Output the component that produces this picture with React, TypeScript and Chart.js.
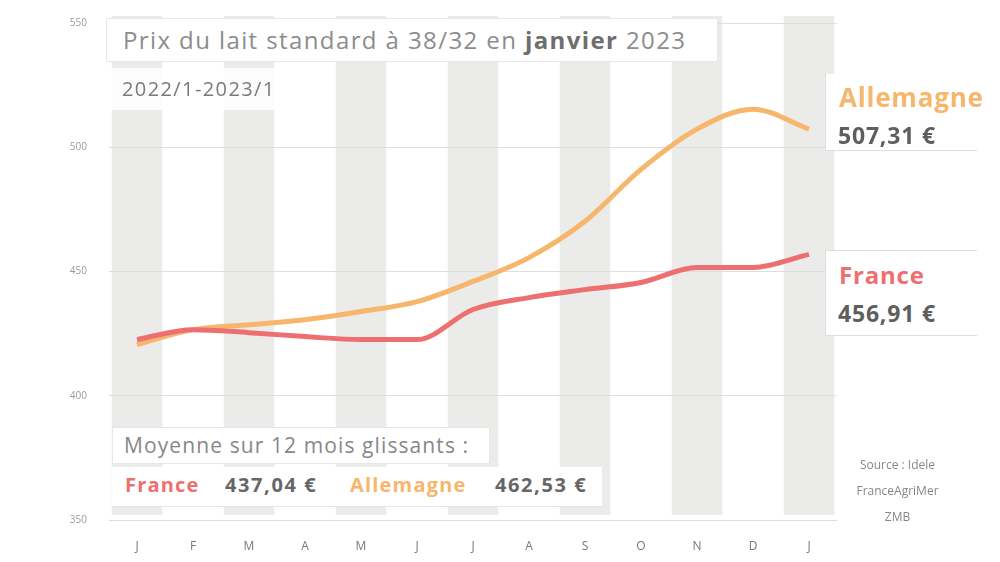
import React, { useEffect, useRef } from "react";
import { Chart, registerables } from "chart.js";
Chart.register(...registerables);

const months = ["J", "F", "M", "A", "M", "J", "J", "A", "S", "O", "N", "D", "J"];
const france = [422.6, 426.6, 425.4, 423.8, 422.6, 422.6, 434.7, 439.5, 442.7, 445.6, 451.6, 451.6, 456.9];
const allemagne = [420.6, 426.6, 428.6, 430.6, 433.9, 437.9, 446.0, 455.6, 470.2, 491.1, 507.3, 515.3, 507.3];
const yTicks = [350, 400, 450, 500, 550];
const bandMonths = [0, 2, 4, 6, 8, 10, 12];

const titleText = "Prix du lait standard à 38/32 en ";
const titleBold = "janvier";
const titleEnd = " 2023";
const periodText = "2022/1-2023/1";
const legendTitle = "Moyenne sur 12 mois glissants :";
const franceLabel = "France";
const allemagneLabel = "Allemagne";
const franceAvg = "437,04 €";
const allemagneAvg = "462,53 €";
const franceLast = "456,91 €";
const allemagneLast = "507,31 €";
const sourceLines = ["Source : Idele", "FranceAgriMer", "ZMB"];

const RED = "#ee6f6f";
const ORANGE = "#f6b66c";
const FONT = "'Open Sans', 'Noto Sans', sans-serif";

const bandsPlugin = {
  id: "bands",
  beforeDraw(chart: any) {
    const { ctx, chartArea, scales } = chart;
    const x = scales.x;
    const step = x.getPixelForValue(1) - x.getPixelForValue(0);
    const w = step * 0.9;
    ctx.save();
    ctx.fillStyle = "#ebebea";
    bandMonths.forEach((i) => {
      const cx = x.getPixelForValue(i);
      ctx.fillRect(cx - w / 2, chartArea.top - 7, w, chartArea.bottom - chartArea.top + 2);
    });
    ctx.restore();
  },
};

function Box(props: any) {
  return <div style={{ position: "absolute", boxSizing: "border-box", whiteSpace: "nowrap", ...props.style }}>{props.children}</div>;
}

export default function App() {
  const ref = useRef<HTMLCanvasElement>(null);
  useEffect(() => {
    const chart = new Chart(ref.current!, {
      type: "line",
      data: {
        labels: months,
        datasets: [
          {
            label: franceLabel,
            data: france,
            borderColor: RED,
            borderWidth: 5,
            pointRadius: 0,
            cubicInterpolationMode: "monotone",
            fill: false,
          },
          {
            label: allemagneLabel,
            data: allemagne,
            borderColor: ORANGE,
            borderWidth: 5,
            pointRadius: 0,
            cubicInterpolationMode: "monotone",
            fill: false,
          },
        ],
      },
      options: {
        responsive: false,
        animation: false,
        layout: { padding: { left: 0, right: 163, top: 5, bottom: 0 } },
        plugins: { legend: { display: false }, tooltip: { enabled: false } },
        scales: {
          x: {
            offset: true,
            grid: { display: false, drawTicks: false },
            border: { display: false },
            ticks: { color: "#777", font: { family: FONT, size: 12 }, padding: 19, maxRotation: 0, autoSkip: false },
            afterFit: (s: any) => { s.height = 47; },
          },
          y: {
            min: 350,
            max: 550,
            afterBuildTicks: (s: any) => { s.ticks = yTicks.map((v) => ({ value: v })); },
            grid: { color: "#dddddd", drawTicks: false, lineWidth: 1 },
            border: { display: false },
            ticks: { color: "#9a9a9a", font: { family: FONT, size: 10 }, padding: 22 },
            afterFit: (s: any) => { s.width = 109; },
          },
        },
      },
      plugins: [bandsPlugin],
    } as any);
    return () => chart.destroy();
  }, []);

  return (
    <div style={{ position: "absolute", left: 0, top: 0, width: 1000, height: 562, fontFamily: FONT, background: "#fff", overflow: "hidden" }}>
      <canvas ref={ref} width={1000} height={572} style={{ position: "absolute", left: 0, top: -5 }} />
      <Box style={{ left: 106, top: 18, width: 612, height: 44, background: "#fff", border: "1px solid #e8e8e8", paddingLeft: 16, fontSize: 24, letterSpacing: 1.4, lineHeight: "42px", color: "#8c8c8c" }}>
        {titleText}<b style={{ color: "#6e6e6e" }}>{titleBold}</b>{titleEnd}
      </Box>
      <Box style={{ left: 110, top: 68, width: 182, height: 42, background: "rgba(255,255,255,0.85)", paddingLeft: 12, fontSize: 20, letterSpacing: 1.4, lineHeight: "42px", color: "#7a7a7a" }}>
        {periodText}
      </Box>
      <Box style={{ left: 112, top: 427, width: 378, height: 37, background: "#fff", border: "1px solid #e6e6e6", paddingLeft: 11, fontSize: 21, letterSpacing: 1.1, lineHeight: "35px", color: "#888" }}>
        {legendTitle}
      </Box>
      <Box style={{ left: 112, top: 467, width: 490, height: 40, background: "#fff", borderBottom: "1px solid #e6e6e6" }} />
      <Box style={{ left: 125, top: 469, fontSize: 20, letterSpacing: 1.2, fontWeight: 700, color: RED, lineHeight: "32px" }}>{franceLabel}</Box>
      <Box style={{ left: 225, top: 469, fontSize: 20, letterSpacing: 1.6, fontWeight: 700, color: "#666", lineHeight: "32px" }}>{franceAvg}</Box>
      <Box style={{ left: 350, top: 469, fontSize: 20, letterSpacing: 1.2, fontWeight: 700, color: ORANGE, lineHeight: "32px" }}>{allemagneLabel}</Box>
      <Box style={{ left: 495, top: 469, fontSize: 20, letterSpacing: 1.6, fontWeight: 700, color: "#666", lineHeight: "32px" }}>{allemagneAvg}</Box>

      <Box style={{ left: 825, top: 74, width: 152, height: 77, background: "#fff", borderLeft: "1px solid #ddd", borderBottom: "1px solid #ddd" }} />
      <Box style={{ left: 839, top: 80, fontSize: 26, letterSpacing: 0.8, fontWeight: 700, color: ORANGE, lineHeight: "34px" }}>{allemagneLabel}</Box>
      <Box style={{ left: 838, top: 118, fontSize: 23, letterSpacing: 0.8, fontWeight: 700, color: "#5e5e5e", lineHeight: "34px" }}>{allemagneLast}</Box>

      <Box style={{ left: 825, top: 250, width: 152, height: 86, background: "#fff", borderLeft: "1px solid #ddd", borderTop: "1px solid #ddd", borderBottom: "1px solid #ddd" }} />
      <Box style={{ left: 839, top: 258, fontSize: 24, letterSpacing: 0.8, fontWeight: 700, color: RED, lineHeight: "34px" }}>{franceLabel}</Box>
      <Box style={{ left: 838, top: 296, fontSize: 23, letterSpacing: 0.8, fontWeight: 700, color: "#5e5e5e", lineHeight: "34px" }}>{franceLast}</Box>

      <Box style={{ left: 845, top: 452, width: 105, textAlign: "center", fontSize: 12, color: "#888", lineHeight: "26px" }}>
        {sourceLines.map((l, i) => (<div key={i}>{l}</div>))}
      </Box>
    </div>
  );
}
